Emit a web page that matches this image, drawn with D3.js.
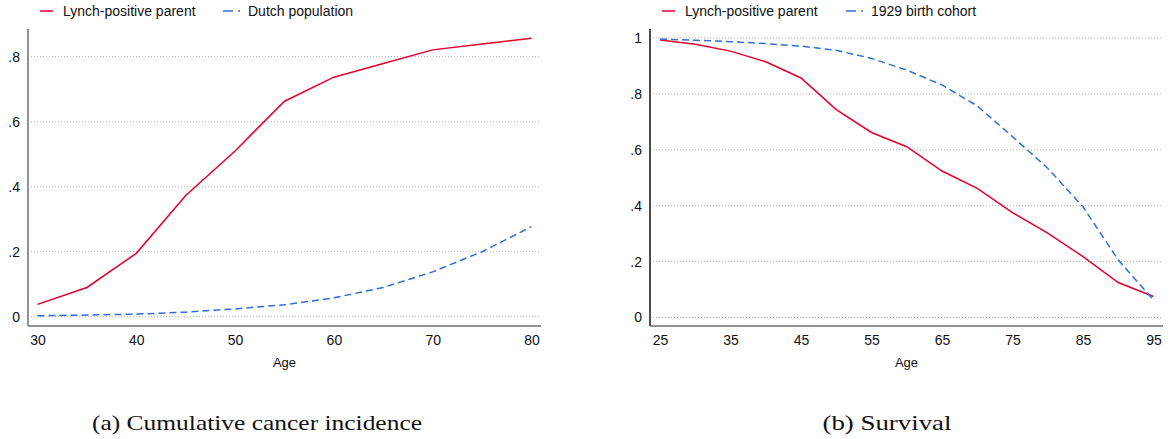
<!DOCTYPE html>
<html>
<head>
<meta charset="utf-8">
<script src="https://cdn.jsdelivr.net/npm/d3@7"></script>
<style>
body { margin: 0; background: #fff; }
text { font-family: "Liberation Sans", Arial, sans-serif; }
.caption { font-family: "Liberation Serif", "DejaVu Serif", serif; }
</style>
</head>
<body>
<svg id="chart" width="1172" height="439"></svg>
<script>
// panel (a): cumulative cancer incidence
var incAges = [30, 35, 40, 45, 50, 55, 60, 65, 70, 75, 80];
var incLynch = [0.038, 0.090, 0.195, 0.373, 0.510, 0.663, 0.737, 0.779, 0.821, 0.839, 0.857];
var incDutch = [0.003, 0.005, 0.008, 0.014, 0.024, 0.037, 0.058, 0.090, 0.138, 0.200, 0.277];
var incXTicks = [30, 40, 50, 60, 70, 80];
var incYTicks = [0, 0.2, 0.4, 0.6, 0.8];

// panel (b): survival
var survAges = [25, 30, 35, 40, 45, 50, 55, 60, 65, 70, 75, 80, 85, 90, 95];
var survLynch = [0.993, 0.978, 0.953, 0.915, 0.857, 0.744, 0.662, 0.611, 0.524, 0.462, 0.375, 0.302, 0.218, 0.125, 0.075];
var survCohort = [0.996, 0.992, 0.987, 0.98, 0.971, 0.956, 0.927, 0.885, 0.832, 0.757, 0.647, 0.534, 0.396, 0.206, 0.063];
var survXTicks = [25, 35, 45, 55, 65, 75, 85, 95];
var survYTicks = [0, 0.2, 0.4, 0.6, 0.8, 1];

var RED = "#e4002b", BLUE = "#2f6fd6";

var svg = d3.select("#chart");

function fmtY(d) {
	if (d === 0) return "0";
	if (d === 1) return "1";
	return d3.format(".1f")(d).replace(/^0/, "");
}

function panel(opt) {
	var x = d3.scaleLinear().domain(opt.xDom).range(opt.xRange);
	var y = d3.scaleLinear().domain(opt.yDom).range(opt.yRange);
	var g = svg.append("g");

	// gridlines
	g.selectAll(".grid")
		.data(opt.yTicks)
		.enter().append("line")
		.attr("x1", opt.axisX + 3)
		.attr("x2", opt.axisRight)
		.attr("y1", function(d) { return y(d); })
		.attr("y2", function(d) { return y(d); })
		.attr("stroke", "#b4b4b4")
		.attr("stroke-width", 1)
		.attr("stroke-dasharray", "1,2");

	// y axis
	var ya = g.append("g")
		.attr("transform", "translate(" + opt.axisX + ",0)")
		.call(d3.axisLeft(y).tickValues(opt.yTicks).tickSize(0).tickPadding(8).tickFormat(fmtY));
	ya.select(".domain").remove();
	ya.selectAll("text").style("font-size", "14px").attr("fill", "#111");
	g.append("line")
		.attr("x1", opt.axisX).attr("x2", opt.axisX)
		.attr("y1", opt.axisTop).attr("y2", opt.axisY)
		.attr("stroke", opt.yAxisColor).attr("stroke-width", 1.5);

	// x axis
	var xa = g.append("g")
		.attr("transform", "translate(0," + opt.axisY + ")")
		.call(d3.axisBottom(x).tickValues(opt.xTicks).tickSize(0).tickPadding(9).tickFormat(d3.format("d")));
	xa.select(".domain").remove();
	xa.selectAll("text").style("font-size", "14px").attr("fill", "#111");
	g.append("line")
		.attr("x1", opt.axisX).attr("x2", opt.axisRight)
		.attr("y1", opt.axisY).attr("y2", opt.axisY)
		.attr("stroke", "#6e6e6e").attr("stroke-width", 1.5);

	g.append("text")
		.attr("x", (opt.axisX + opt.axisRight) / 2)
		.attr("y", 367)
		.attr("text-anchor", "middle")
		.style("font-size", "13px")
		.attr("fill", "#111")
		.text("Age");

	// lines
	var line = d3.line()
		.x(function(d) { return x(d[0]); })
		.y(function(d) { return y(d[1]); });
	opt.series.forEach(function(s) {
		g.append("path")
			.datum(opt.ages.map(function(a, i) { return [a, s.values[i]]; }))
			.attr("d", line)
			.attr("fill", "none")
			.attr("stroke", s.color)
			.attr("stroke-width", 1.5)
			.attr("stroke-dasharray", s.dash);
	});

	// legend
	opt.series.forEach(function(s, i) {
		var lx = opt.legendX[i];
		g.append("line")
			.attr("x1", lx).attr("x2", lx + (s.dash ? 18 : 13))
			.attr("y1", 11).attr("y2", 11)
			.attr("stroke", s.color).attr("stroke-width", 1.5)
			.attr("stroke-dasharray", s.dash ? "10,5,2,1" : null);
		g.append("text")
			.attr("x", lx + (s.dash ? 25 : 23))
			.attr("y", 16)
			.style("font-size", "14px")
			.attr("fill", "#111")
			.text(s.name);
	});

	svg.append("text")
		.attr("class", "caption")
		.attr("x", opt.capX)
		.attr("y", 430)
		.attr("text-anchor", "middle")
		.style("font-size", "21px")
		.attr("fill", "#111")
		.attr("textLength", opt.capW)
		.attr("lengthAdjust", "spacingAndGlyphs")
		.text(opt.caption);
}

panel({
	xDom: [30, 80], xRange: [37.5, 531.5],
	yDom: [0, 0.8], yRange: [316.7, 56.7],
	axisX: 28, axisRight: 541, axisTop: 29, axisY: 326,
	yAxisColor: "#6e6e6e",
	xTicks: incXTicks, yTicks: incYTicks,
	ages: incAges,
	series: [
		{ name: "Lynch-positive parent", values: incLynch, color: RED, dash: null },
		{ name: "Dutch population", values: incDutch, color: BLUE, dash: "7,4" }
	],
	legendX: [40, 223],
	caption: "(a) Cumulative cancer incidence", capX: 257, capW: 330
});

panel({
	xDom: [25, 95], xRange: [660, 1153.5],
	yDom: [0, 1], yRange: [317.5, 38],
	axisX: 650, axisRight: 1163, axisTop: 29, axisY: 326,
	yAxisColor: "#111",
	xTicks: survXTicks, yTicks: survYTicks,
	ages: survAges,
	series: [
		{ name: "Lynch-positive parent", values: survLynch, color: RED, dash: null },
		{ name: "1929 birth cohort", values: survCohort, color: BLUE, dash: "7,4" }
	],
	legendX: [662, 846],
	caption: "(b) Survival", capX: 887, capW: 129
});
</script>
</body>
</html>
